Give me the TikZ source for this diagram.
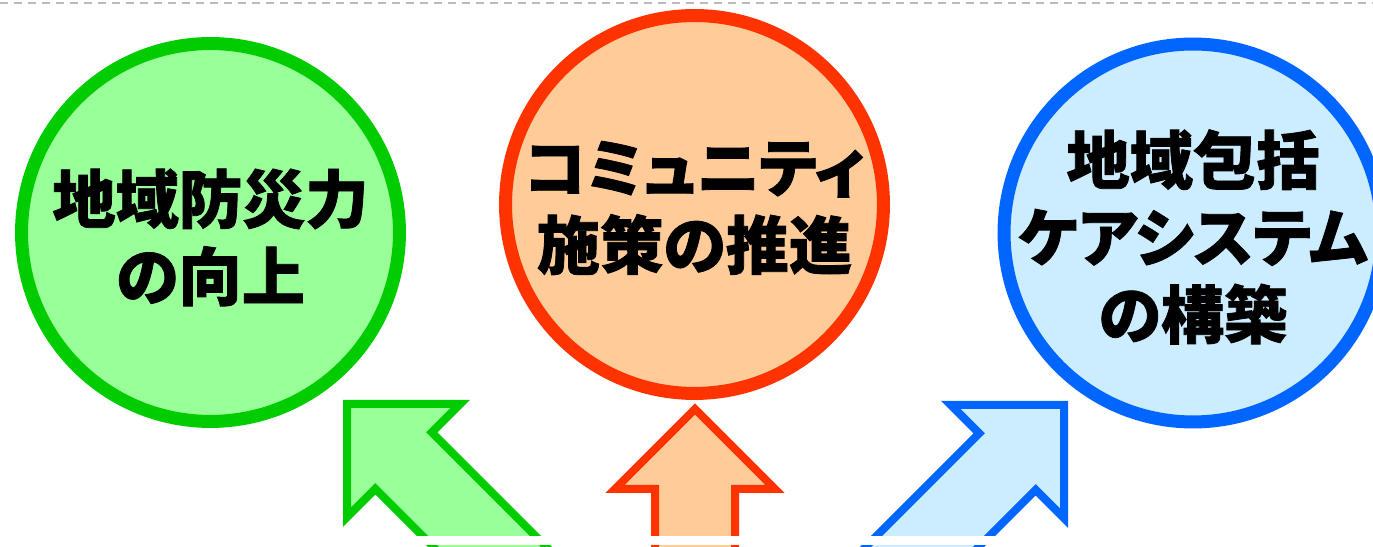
\documentclass[tikz,border=0pt]{standalone}
\usepackage{fontspec}
\usepackage{tikz}
\newfontfamily\jpfont{Noto Sans CJK JP}[RawFeature=+palt, BoldFeatures={FakeBold=1.2}]
\definecolor{grnfill}{HTML}{99FF99}
\definecolor{grnline}{HTML}{00CC00}
\definecolor{orgfill}{HTML}{FFCC99}
\definecolor{orgline}{HTML}{FF3300}
\definecolor{blufill}{HTML}{CCECFF}
\definecolor{bluline}{HTML}{0066FF}
\definecolor{dashgray}{HTML}{BBBBBB}
\tikzset{
  bubble/.style={circle, line width=0.26cm, minimum size=7.56cm, inner sep=0pt},
  bubbletext/.style={align=center, inner sep=0pt,
    font=\jpfont\bfseries\fontsize{36}{44}\selectfont},
  blockarrow/.pic={
    \path[line width=0.16cm, pic actions] (0,0) -- (80,-80) -- (40,-80) -- (40,-330)
      -- (-40,-330) -- (-40,-80) -- (-80,-80) -- cycle;
  }
}

\begin{document}
\begin{tikzpicture}[x=0.02cm, y=0.02cm]
  \clip (0,0) rectangle (1373,547);

  % Пунктир сверху
  \draw[dashgray, line width=0.04cm, dash pattern=on 0.16cm off 0.12cm] (0,544) -- (1373,544);

  % Круги
  \node[bubble, draw=grnline, fill=grnfill] (bosai) at (210.5,314.5) {};
  \node[bubble, draw=orgline, fill=orgfill] (komyu) at (694.5,342.5) {};
  \node[bubble, draw=bluline, fill=blufill] (kea) at (1193,314) {};

  % Подписи в кругах
  \node[bubbletext, yshift=-0.1cm] (bosaitxt) at (bosai) {地域防災力\\の向上};
  \node[bubbletext, yshift=-0.07cm] (komyutxt) at (komyu) {コミュニティ\\施策の推進};
  \node[bubbletext, yshift=-0.08cm] (keatxt) at (kea) {地域包括\\ケアシステム\\の構築};

  % Стрелки
  \pic[draw=grnline, fill=grnfill, rotate=45] at (347,143) {blockarrow};
  \pic[draw=orgline, fill=orgfill] at (695,138) {blockarrow};
  \pic[draw=bluline, fill=blufill, rotate=-45] at (1064,142) {blockarrow};

  % Белая полоса внизу
  \fill[white] (0,2) rectangle (1373,11);
\end{tikzpicture}
\end{document}
